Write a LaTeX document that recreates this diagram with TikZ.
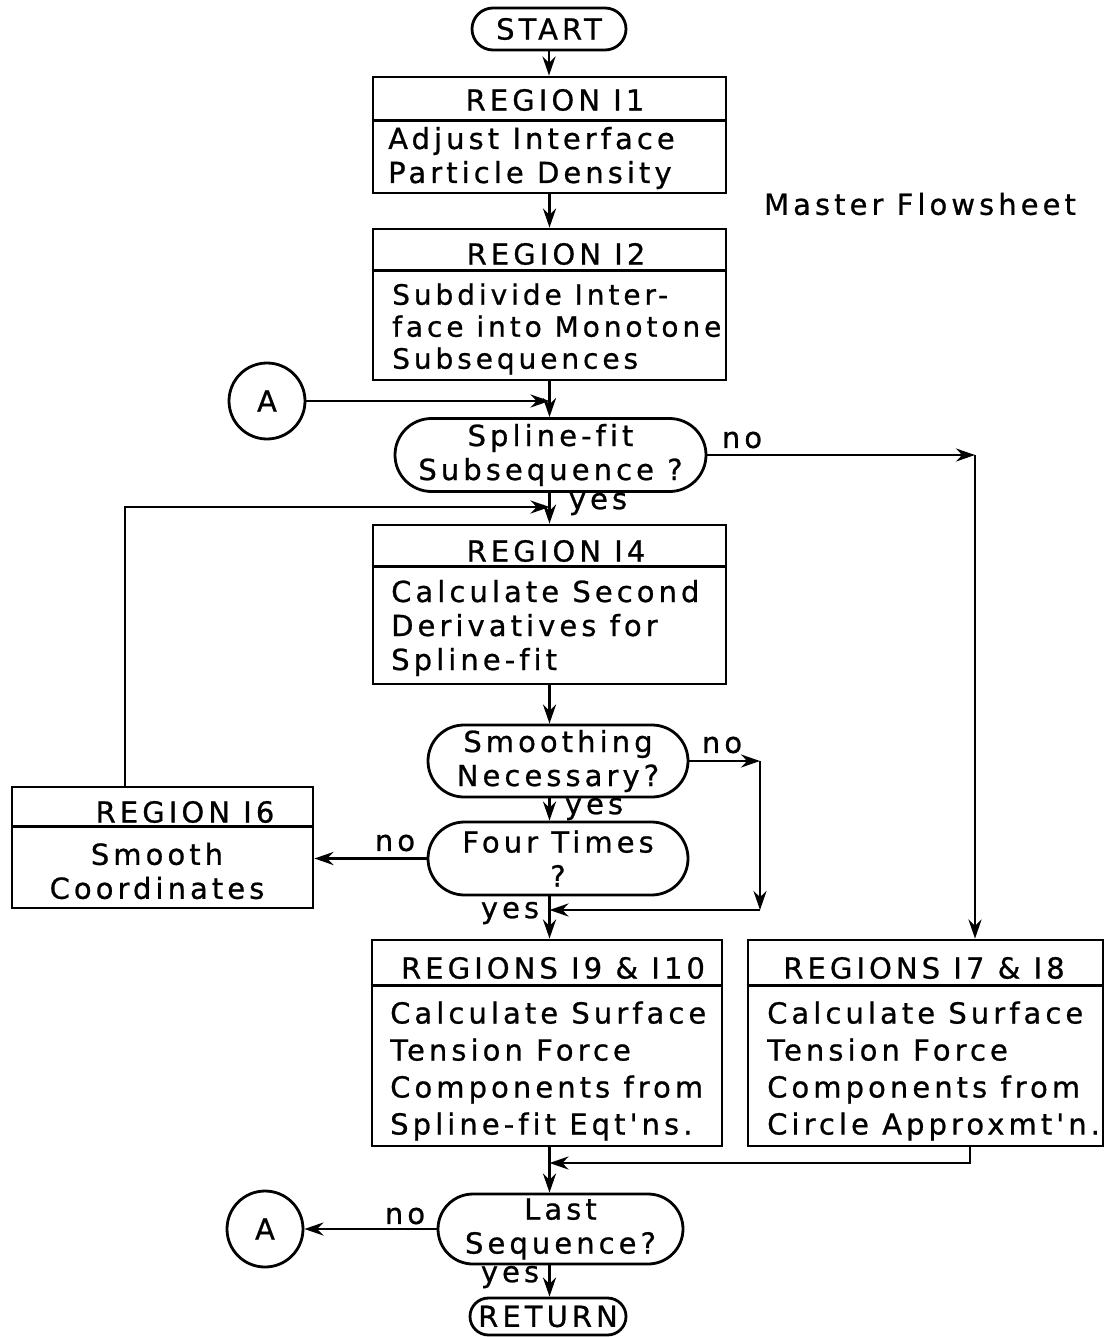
\documentclass[tikz,border=0pt]{standalone}
\usepackage{fontspec}
\newfontfamily\flowfont[LetterSpace=14,Ligatures=NoCommon,FakeBold=0.8]{DejaVu Sans}
\usetikzlibrary{arrows.meta,shapes.misc}

\tikzset{
  every node/.style={font=\flowfont\fontsize{29}{34}\selectfont},
  regbox/.style={draw, line width=2.8pt, rectangle, inner sep=0pt},
  ask/.style={draw, line width=2.8pt, rounded rectangle, inner sep=0pt},
  conn/.style={draw, line width=2.8pt, circle, minimum size=76pt, inner sep=0pt},
  flow/.style={line width=2.8pt, -{Stealth[length=19pt,width=13pt]}},
  body/.style={anchor=west, align=left, inner sep=0pt},
}

\begin{document}
\begin{tikzpicture}[x=1pt, y=-1pt]
    \useasboundingbox (0,0) rectangle (1107,1337);

    % terminals and connectors
    \node[ask, minimum width=154pt, minimum height=42pt] (start) at (549,29) {START};
    \node[ask, minimum width=156pt, minimum height=37pt] (ret) at (548,1316.5) {RETURN};
    \node[conn] (a1) at (267,401) {A};
    \node[conn] (a2) at (265,1229) {A};

    % region boxes
    \node[regbox, minimum width=353pt, minimum height=116pt] (r1) at (549.5,135) {};
    \node[regbox, minimum width=353pt, minimum height=151pt] (r2) at (549.5,304.5) {};
    \node[regbox, minimum width=353pt, minimum height=159pt] (r4) at (549.5,604.5) {};
    \node[regbox, minimum width=301pt, minimum height=121pt] (r6) at (162.5,847.5) {};
    \node[regbox, minimum width=350pt, minimum height=206pt] (r9) at (547,1043) {};
    \node[regbox, minimum width=355pt, minimum height=206pt] (r7) at (925.5,1043) {};
    \draw[line width=2.8pt] ([yshift=-45pt]r1.north west) -- ([yshift=-45pt]r1.north east);
    \draw[line width=2.8pt] ([yshift=-43pt]r2.north west) -- ([yshift=-43pt]r2.north east);
    \draw[line width=2.8pt] ([yshift=-43pt]r4.north west) -- ([yshift=-43pt]r4.north east);
    \draw[line width=2.8pt] ([yshift=-41pt]r6.north west) -- ([yshift=-41pt]r6.north east);
    \draw[line width=2.8pt] ([yshift=-47pt]r9.north west) -- ([yshift=-47pt]r9.north east);
    \draw[line width=2.8pt] ([yshift=-47pt]r7.north west) -- ([yshift=-47pt]r7.north east);

    \node (h1) at (555,100) {REGION I1};
    \node[body] (t1) at (388,158) {Adjust Interface\\Particle Density};
    \node (h2) at (556,254) {REGION I2};
    \node[body, font=\flowfont\fontsize{28}{32}\selectfont] (t2) at (392,329) {Subdivide Inter-\\face into Monotone\\Subsequences};
    \node (h4) at (556,551) {REGION I4};
    \node[body] (t4) at (391,628) {Calculate Second\\Derivatives for\\Spline-fit};
    \node (h6) at (185,812) {REGION I6};
    \node[align=center, inner sep=0pt] (t6) at (157,871) {Smooth\\Coordinates};
    \node (h9) at (553,968) {REGIONS I9 \& I10};
    \node[body, font=\flowfont\fontsize{29}{37}\selectfont] (t9) at (390,1071) {Calculate Surface\\Tension Force\\Components from\\Spline-fit Eqt'ns.};
    \node (h7) at (924,968) {REGIONS I7 \& I8};
    \node[body, font=\flowfont\fontsize{29}{37}\selectfont] (t7) at (767,1071) {Calculate Surface\\Tension Force\\Components from\\Circle Approxmt'n.};

    % decisions
    \node[ask, minimum width=311pt, minimum height=73pt, align=center] (spline) at (550.5,455) {Spline-fit\\Subsequence ?};
    \node[ask, minimum width=260pt, minimum height=72pt, align=center] (smooth) at (558,761) {Smoothing\\Necessary?};
    \node[ask, minimum width=260pt, minimum height=73pt, align=center] (four) at (558,858.5) {Four Times\\?};
    \node[ask, minimum width=245pt, minimum height=70pt, align=center] (last) at (560.5,1229) {Last\\Sequence?};

    \node (title) at (920,204) {Master Flowsheet};

    % bends
    \coordinate (k1) at (975,455);
    \coordinate (k2) at (125,507);
    \coordinate (k3) at (760,761);
    \coordinate (k4) at (760,910);
    \coordinate (k5) at (970,1163);

    % flow
    \draw[flow] (start.south) -- (start.south |- r1.north);
    \draw[flow] (r1.south) -- (r2.north);
    \draw[flow] (r2.south) -- (r2.south |- spline.north);
    \draw[flow] (a1.east) -- (a1.east -| r2.south);
    \draw[flow] (spline.east) -- (k1);
    \node (n1) at (742,440) {no};
    \draw[flow] (k1) -- (k1 |- r7.north);
    \draw[flow] (r4.north |- spline.south) -- (r4.north);
    \node (y1) at (598,504) {yes};
    \draw[flow] (k2 |- r6.north) -- (k2) -- (k2 -| r4.north);
    \draw[flow] (r4.south) -- (r4.south |- smooth.north);
    \draw[flow] (smooth.east) -- (k3);
    \node (n2) at (722,745) {no};
    \draw[flow] (k3) -- (k4);
    \draw[flow] (k4) -- (k4 -| r4.south);
    \draw[flow] (r4.south |- smooth.south) -- (r4.south |- four.north);
    \node (y2) at (594,809) {yes};
    \draw[flow] (four.west) -- (four.west -| r6.east);
    \node (n3) at (395,843) {no};
    \draw[flow] (r4.south |- four.south) -- (r4.south |- r9.north);
    \node (y3) at (510,913) {yes};
    \draw[flow] (k5 |- r7.south) -- (k5) -- (k5 -| r4.south);
    \draw[flow] (r4.south |- r9.south) -- (r4.south |- last.north);
    \draw[flow] (last.west) -- (a2.east);
    \node (n4) at (405,1216) {no};
    \draw[flow] (r4.south |- last.south) -- (r4.south |- ret.north);
    \node (y4) at (510,1277) {yes};
\end{tikzpicture}
\end{document}
